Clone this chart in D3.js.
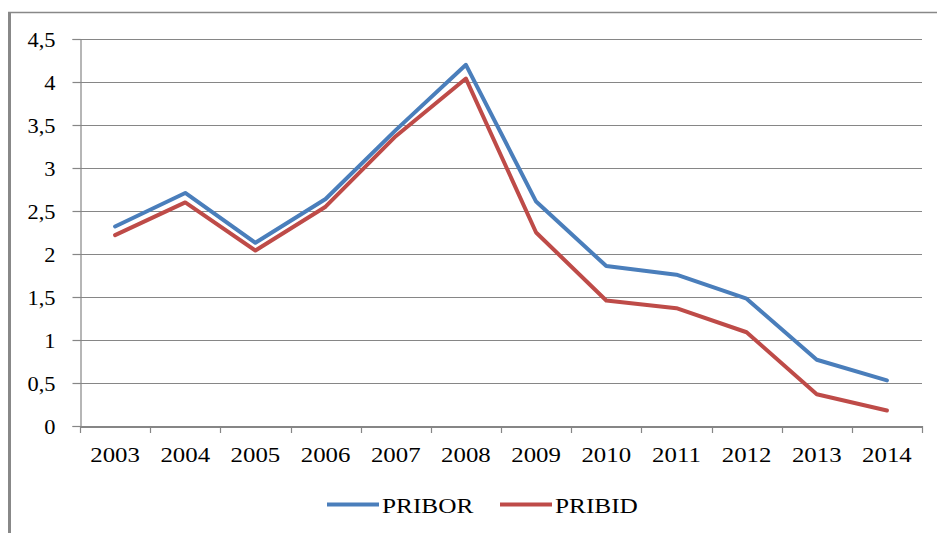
<!DOCTYPE html>
<html>
<head>
<meta charset="utf-8">
<script src="https://cdn.jsdelivr.net/npm/d3@7"></script>
<style>
  html, body { margin: 0; padding: 0; background: #fff; }
  svg { display: block; }
</style>
</head>
<body>
<script>
const years = ["2003","2004","2005","2006","2007","2008","2009","2010","2011","2012","2013","2014"];
const pribor = [2.32, 2.71, 2.13, 2.64, 3.44, 4.20, 2.61, 1.86, 1.76, 1.48, 0.77, 0.53];
const pribid = [2.22, 2.60, 2.04, 2.55, 3.37, 4.04, 2.25, 1.46, 1.37, 1.09, 0.37, 0.18];
const yTicks = [0, 0.5, 1, 1.5, 2, 2.5, 3, 3.5, 4, 4.5];
const seriesNames = ["PRIBOR", "PRIBID"];
const seriesColors = ["#4a7ebb", "#be4b48"];

const FONT = "'Liberation Serif', 'Times New Roman', serif";
const W = 937, H = 533;
const pLeft = 80, pRight = 922, pTop = 39, pBottom = 426;

const svg = d3.select("body").append("svg").attr("width", W).attr("height", H);

// outer frame
svg.append("line").attr("x1", 9.5).attr("x2", 9.5).attr("y1", 12).attr("y2", H)
  .attr("stroke", "#888").attr("stroke-width", 3);
svg.append("line").attr("x1", 8).attr("x2", W).attr("y1", 12.5).attr("y2", 12.5)
  .attr("stroke", "#888").attr("stroke-width", 1.5);

const x = d3.scaleBand().domain(years).range([pLeft, pRight]);
const y = d3.scaleLinear().domain([0, 4.5]).range([pBottom, pTop]);

// gridlines
svg.append("g").selectAll("line").data(yTicks.filter(d => d > 0)).join("line")
  .attr("x1", pLeft).attr("x2", pRight)
  .attr("y1", d => Math.round(y(d)) + 0.5).attr("y2", d => Math.round(y(d)) + 0.5)
  .attr("stroke", "#868686").attr("stroke-width", 1.2);

// y axis
const yAxis = svg.append("g").attr("transform", `translate(${pLeft + 0.5},0)`)
  .call(d3.axisLeft(y).tickValues(yTicks).tickSize(8).tickPadding(0)
    .tickFormat(d => d3.format(".1~f")(d).replace(".", ",")));
yAxis.attr("font-family", null).attr("font-size", null);
yAxis.select(".domain").attr("stroke", "#868686").attr("stroke-width", 1.2);
yAxis.selectAll(".tick line").attr("stroke", "#868686").attr("stroke-width", 1.2);
yAxis.selectAll(".tick text").each(function() {
  d3.select(this).attr("x", null).attr("dy", null)
   .attr("text-anchor", "end")
   .style("font-family", FONT).style("font-size", "20px").attr("fill", "#000")
   .attr("transform", "translate(-25,7) scale(1.12,1)");
});

// x axis
const xAxis = svg.append("g").attr("transform", `translate(0,${pBottom + 0.5})`)
  .call(d3.axisBottom(x).tickSize(0).tickPadding(0));
xAxis.attr("font-family", null).attr("font-size", null);
xAxis.select(".domain").attr("stroke", "#868686").attr("stroke-width", 2);
xAxis.selectAll(".tick text").each(function() {
  d3.select(this).attr("y", null).attr("dy", null)
   .attr("text-anchor", "middle")
   .style("font-family", FONT).style("font-size", "22px").attr("fill", "#000")
   .attr("transform", "translate(0,35.5) scale(1.13,1)");
});
// category boundary tick marks
const bounds = years.map(d => x(d)).concat([pRight]);
svg.append("g").selectAll("line").data(bounds).join("line")
  .attr("x1", d => Math.round(d) + 0.5).attr("x2", d => Math.round(d) + 0.5)
  .attr("y1", pBottom).attr("y2", pBottom + 7)
  .attr("stroke", "#868686").attr("stroke-width", 1.2);

// lines
const line = d3.line().x((d, i) => x(years[i]) + x.bandwidth() / 2).y(d => y(d));
[pribor, pribid].forEach((s, k) => {
  svg.append("path").datum(s)
    .attr("d", line)
    .attr("fill", "none")
    .attr("stroke", seriesColors[k])
    .attr("stroke-width", 4)
    .attr("stroke-linejoin", "round")
    .attr("stroke-linecap", "round");
});

// legend
const legendX = [327, 500];
const leg = svg.append("g");
seriesNames.forEach((n, k) => {
  leg.append("line")
    .attr("x1", legendX[k]).attr("x2", legendX[k] + 52)
    .attr("y1", 504.5).attr("y2", 504.5)
    .attr("stroke", seriesColors[k]).attr("stroke-width", 4);
  leg.append("text")
    .style("font-family", FONT).style("font-size", "22px").attr("fill", "#000")
    .attr("transform", `translate(${legendX[k] + 55},513) scale(1.15,1)`)
    .text(n);
});
</script>
</body>
</html>
